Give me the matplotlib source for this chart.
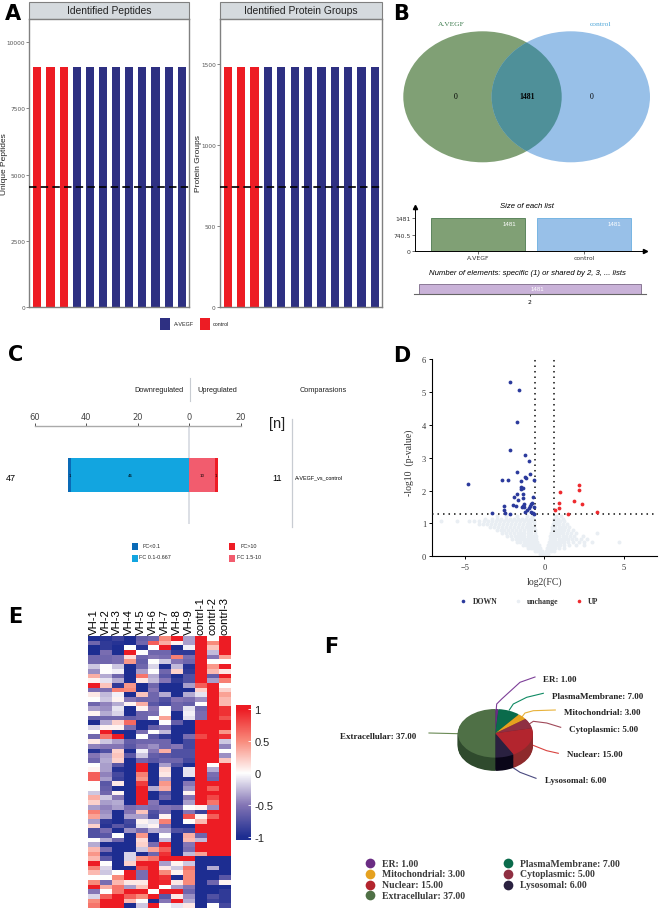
"""Rebuild the six-panel proteomics figure (bars, venn, volcano, heatmap, pie)."""

from __future__ import annotations

import matplotlib

matplotlib.use("Agg")

import matplotlib.pyplot as plt
import numpy as np
from matplotlib.colors import LinearSegmentedColormap
from matplotlib.patches import Ellipse, Rectangle

W, H = 660, 912
SANS = "Liberation Sans"
SERIF = "Liberation Serif"

# Panel A
sample_groups = ["control"] * 3 + ["A-VEGF"] * 9
unique_peptides = [9067] * 12
protein_groups = [1481] * 12
peptide_ticks = [0, 2500, 5000, 7500, 10000]
protein_ticks = [0, 500, 1000, 1500]

# Panel B
venn_counts = [0, 1481, 0]
list_names = ["A.VEGF", "control"]
list_sizes = [1481, 1481]
shared_label = ["2"]
shared_sizes = [1481]

# Panel C
fc_down_strong = [1]
fc_down_mid = [46]
fc_up_mid = [10]
fc_up_strong = [1]
fc_ticks = [-60, -40, -20, 0, 20]

# Panel D
down_fc = [-2.17, -1.60, -1.73, -2.15, -1.23, -0.94, -1.69, -0.88, -1.19, -1.15, -0.63, -2.63, -2.29,
           -1.48, -4.79, -1.48, -1.44, -1.31, -1.71, -1.31, -1.31, -1.90, -0.73, -1.65, -2.56, -2.50,
           -1.94, -1.79, -1.35, -1.27, -1.40, -1.27, -0.85, -0.79, -0.92, -0.98, -0.65, -1.10, -1.19,
           -0.85, -0.73, -3.29, -2.46, -2.15, -0.63]
down_p = [5.31, 5.07, 4.07, 3.24, 3.08, 2.90, 2.57, 2.49, 2.41, 2.37, 2.33, 2.31, 2.31,
          2.28, 2.19, 2.12, 2.06, 2.09, 1.89, 1.89, 1.78, 1.80, 1.80, 1.70, 1.52, 1.42,
          1.56, 1.52, 1.54, 1.58, 1.50, 1.51, 1.59, 1.63, 1.52, 1.47, 1.49, 1.41, 1.36,
          1.35, 1.32, 1.32, 1.32, 1.30, 1.29]
up_fc = [2.19, 2.15, 1.00, 1.88, 0.92, 2.38, 0.90, 0.69, 3.29, 1.46]
up_p = [2.16, 2.03, 1.97, 1.68, 1.62, 1.58, 1.46, 1.42, 1.36, 1.30]
unchange_bands = {
    1.22: [-3.0, -2.4, -1.7, -1.1, -0.8, 0.75, 1.05],
    1.14: [-3.7, -3.3, -3.0, -2.7, -2.4, -2.15, -1.9, -1.65, -1.4, -1.15, -0.9, -0.7, 0.62, 0.85, 1.15],
    1.06: [-6.5, -5.5, -4.7, -4.4, -4.1, -3.8, -3.55, -3.3, -3.05, -2.8, -2.55, -2.3, -2.05, -1.8, -1.55,
           -1.3, -1.05, -0.85, -0.68, 0.58, 0.8, 1.0, 1.25],
    0.97: [-4.1, -3.85, -3.6, -3.35, -3.1, -2.85, -2.6, -2.35, -2.1, -1.85, -1.6, -1.35, -1.1, -0.9, -0.68,
           0.55, 0.75, 0.95, 1.15, 1.4],
    0.88: [-3.4, -3.15, -2.9, -2.65, -2.4, -2.15, -1.9, -1.65, -1.4, -1.15, -0.95, -0.8, -0.63,
           0.5, 0.7, 0.9, 1.1, 1.3, 1.55],
    0.79: [-3.0, -2.75, -2.5, -2.25, -2.0, -1.75, -1.5, -1.25, -1.05, -0.85, -0.6,
           0.46, 0.65, 0.85, 1.05, 1.25, 1.5, 1.8],
    0.70: [-2.65, -2.4, -2.15, -1.9, -1.65, -1.45, -1.25, -1.05, -0.85, -0.58,
           0.42, 0.6, 0.8, 1.0, 1.2, 1.4, 1.65, 2.0, 3.3],
    0.61: [-2.35, -2.1, -1.85, -1.65, -1.45, -1.25, -1.05, -0.85, -0.7, -0.54,
           0.38, 0.55, 0.75, 0.95, 1.15, 1.35, 1.6, 1.85, 2.4],
    0.52: [-2.0, -1.8, -1.6, -1.4, -1.2, -1.0, -0.85, -0.65, -0.5,
           0.33, 0.5, 0.7, 0.9, 1.1, 1.3, 1.5, 1.75, 2.0, 2.3, 2.7],
    0.43: [-1.7, -1.5, -1.3, -1.1, -0.95, -0.8, -0.62, -0.43,
           0.28, 0.45, 0.65, 0.85, 1.05, 1.25, 1.5, 1.8, 2.15, 2.5, 3.0, 4.7],
    0.34: [-1.35, -1.15, -1.0, -0.85, -0.68, -0.5, -0.34,
           0.22, 0.4, 0.6, 0.8, 1.0, 1.25, 1.55, 2.0, 2.5],
    0.25: [-1.0, -0.85, -0.7, -0.55, -0.4, -0.25, 0.18, 0.33, 0.5, 0.7, 0.95, 1.25],
    0.16: [-0.6, -0.48, -0.36, -0.25, -0.14, 0.12, 0.25, 0.4, 0.6],
    0.07: [-0.25, -0.14, -0.05, 0.04, 0.12, 0.22],
    0.01: [-0.03, 0.03],
}
volcano_classes = ["DOWN", "unchange", "UP"]

# Panel E, one list per sample, top row first
vh_1 = [-1, -.6, -1, -1, -.6, -.6, -.2, -.4, .35, .05, 1, -.55, .1, 0, -.6, -.35, .05, -.65, -1, -.15, 0, -.6, .1,
        -.45, -.95, -.5, -.6, 0, .05, .7, .7, 0, 0, -.2, .35, .2, -.35, .55, .4, -.35, .2, -.75, -.75, 0, -.3, .3,
        .45, .3, 1, .55, .3, 0, .5, 1, -.5, -.15, .5, .6]
vh_2 = [-.95, -.9, -.9, -.55, -.6, -.6, 0, 0, -.3, -.1, .25, -.55, -.25, -.2, -.45, -.4, -.3, -.6, -.3, .05, 1, .6,
        -.2, -.5, -.75, -.35, -.3, -.35, -.35, -.45, -.35, -.7, -.65, -.6, -.2, -.35, -.45, -.4, -.35, -.9, -.95,
        -.55, -.7, -.3, -1, -.55, -.95, -.7, 0, -.15, -.2, 0, -.55, .35, 0, .7, 1, 1]
vh_3 = [-.85, -.95, -1, -1, -.55, -.55, -.2, -.05, -.6, -.3, -.9, .55, -.05, .05, -.3, -.1, -.15, -.6, .2, .05, -1,
        1, -.35, -.5, .2, .25, .2, -.7, -.95, -.8, -.85, .1, -1, .05, -.5, -.3, -.35, -1, -1, -1, -.7, -1, 0, -.6,
        -1, -1, -1, -1, -1, -1, 0, .5, .3, .6, .6, 1, 1, 1]
vh_4 = [-1, -1, 0, 1, .15, .45, -1, -1, -1, -1, .45, .5, -1, -.5, .05, -1, -1, -.65, .65, -.55, -1, -1, -.65, -.7,
        -1, -.7, -1, -1, -1, -1, -1, -1, -1, -1, -1, -1, -.55, -.5, -.35, -.8, -.85, -.4, -1, -1, -1, -1, -.15,
        -.15, .2, -1, 1, 1, .1, -.35, 1, .7, .3, -1]
vh_5 = [-.65, -.6, -.95, 0, -.6, -.65, -.6, -.35, .6, .1, -1, -1, .25, -.6, .35, .05, -.6, -.6, -1, -1, -.55, 0,
        -.6, -.5, -.05, -.2, -.6, 1, 1, .55, .45, .85, 1, 1, 1, 1, -.5, .25, -.35, .05, -.1, -.55, .45, .15, .2,
        -.2, -1, .45, 1, .8, -.55, -.55, .1, .25, 1, .5, 0, -.2]
vh_6 = [-.6, .7, 0, -.6, -.5, 0, -.15, 0, -.3, -.25, -.6, -.5, -.6, -.6, -.7, -.5, -.55, 0, -1, -.65, 0, -.7, -.6,
        -.4, -.5, -.65, -.7, -1, -1, -1, -1, -1, -.3, -1, -1, -.5, -.55, -.75, -.8, -.1, .05, -.3, -1, -1, -.55,
        .4, -.6, .6, 1, 1, 1, 1, 1, 1, 0, 1, -1, 1]
vh_7 = [.5, .35, 1, -.6, -.55, -.2, -1, -.6, -.7, -.5, -1, -1, -.3, -.75, -.8, 0, 0, .4, 0, -.55, -.25, -.9, -.6,
        -.6, .35, -.7, -.6, -.35, .15, .1, -.35, .45, .35, -.7, -.6, -1, -.5, -.55, .05, .55, -.5, -.35, 0, -.25,
        1, .7, .9, 1, -.35, .1, .5, .9, .95, 0, 1, -.7, -.5, 0]
vh_8 = [1, .05, -1, -.9, .55, -.5, -.25, .2, -1, -.9, -1, -1, -1, -.5, -.6, -.6, -1, -1, -.65, -1, -1, -1, -1, -.5,
        -.75, -.75, -.6, -.75, -1, -1, -1, -1, -1, -1, -1, -1, -.55, -1, -1, -1, -1, -.75, -1, -1, -1, -1, -1, 1,
        .05, -.2, .05, -1, .1, -.35, 1, .1, 1, -.1]
vh_9 = [-.35, -.35, -.05, -.9, -.55, -.6, -.95, -.9, -.75, -.75, -.35, -1, -.3, -.55, -.65, -.1, -.05, -.1, -1, -1,
        -1, -.55, -.8, -.8, -.75, -.75, -.8, -1, -.1, -.1, -1, -.5, -.4, .05, -.5, -.35, 0, -.5, .75, 0, -1, -.8,
        .35, .3, -.5, -.55, -.25, 1, -.2, .6, .5, .5, .5, -.5, -.6, -.4, -.3, .1]
contrl_1 = [1, 1, 1, 1, 1, 1, 1, 1, 1, 1, .7, .2, -.1, -.4, 0, -.6, -.55, -.55, 1, 1, 1, .8, 1, 1, 1, 1, 1, 1, 1, 1,
            1, 1, 1, 1, 1, 1, .05, -.85, .05, .3, 1, 1, -.6, -.25, 1, 1, .4, -1, -1, -1, -1, -1, -1, -1, -1, -1, -1,
            -1]
contrl_2 = [0, .5, .25, -.25, -.5, 0, .45, .3, -.65, -.35, 1, 1, 1, 1, 1, 1, 1, 1, 1, 1, 1, 1, 1, 1, 1, 1, 1, 0, -.3,
            -.55, -.6, 1, .7, 1, .8, .6, -.4, 1, .7, 1, 1, 1, 1, 1, 1, 1, 1, -1, -1, -.3, -1, -1, -.6, -1, -1, -.75,
            -.85, 0]
contrl_3 = [1, 1, 1, 1, .4, 0, 1, .1, 1, .55, 0, .2, .4, .3, .3, .9, .9, .75, 1, 1, .45, .9, -.2, -.45, 0, -.4, .25,
            1, 1, 1, 1, 1, 1, 1, 1, 1, 1, 1, 1, 1, 1, 1, 1, 1, 1, 1, 1, -1, -1, -1, -1, -.7, .05, -1, -.9, -.9, -.9,
            -.8]
heat_labels = ["VH-1", "VH-2", "VH-3", "VH-4", "VH-5", "VH-6", "VH-7", "VH-8", "VH-9",
               "contrl-1", "contrl-2", "contrl-3"]
colorbar_ticks = [-1, -0.5, 0, 0.5, 1]

# Panel F
pie_names = ["ER", "PlasmaMembrane", "Mitochondrial", "Cytoplasmic", "Nuclear", "Lysosomal", "Extracellular"]
pie_values = [1, 7, 3, 5, 15, 6, 37]


def px_axes(fig: plt.Figure, x0: float, y0: float, x1: float, y1: float) -> plt.Axes:
    return fig.add_axes([x0 / W, 1 - y1 / H, (x1 - x0) / W, (y1 - y0) / H])


def draw_panel_a(fig: plt.Figure, ov: plt.Axes) -> None:
    colors = {"control": "#ed1c24", "A-VEGF": "#2e3082"}
    panels = [
        (29.3, 189.0, unique_peptides, peptide_ticks, 10880, "Identified Peptides", "Unique Peptides", 5, -0.61, 11.55),
        (220.0, 382.0, protein_groups, protein_ticks, 1780, "Identified Protein Groups", "Protein Groups", 198, -0.575, 11.52),
    ]
    for x0, x1, values, ticks, top, title, ylabel, ylab_x, xmin, xmax in panels:
        ax = px_axes(fig, x0, 20, x1, 308)
        ax.bar(range(12), values, width=0.62, color=[colors[g] for g in sample_groups])
        ax.axhline(values[0] / 2, color="black", lw=1.2, ls=(0, (4.5, 2.5)), clip_on=False, zorder=5)
        ax.set_xlim(xmin, xmax)
        ax.set_ylim(0, top)
        ax.set_xticks([])
        ax.set_yticks(ticks)
        ax.tick_params(axis="y", labelsize=4.2, length=2, width=0.5, pad=1, colors="#555555")
        for spine in ax.spines.values():
            spine.set_color("#808080")
            spine.set_linewidth(1.0)
        ov.add_patch(Rectangle((x0, 3), x1 - x0, 17, fc="#d5dade", ec="#808080", lw=0.8))
        ov.text((x0 + x1) / 2, 11.5, title, ha="center", va="center", fontsize=7.4, family=SANS, color="#222222")
        ov.text(ylab_x, 164, ylabel, rotation=90, ha="center", va="center",
                fontsize=6.0, family=SANS, color="#222222")
    for x, name, color, tx in [(159.7, "A-VEGF", "#2e3082", 173.5), (199.5, "control", "#ed1c24", 213)]:
        ov.add_patch(Rectangle((x, 318.5), 10, 12.5, fc=color, ec="none"))
        ov.text(tx, 325, name, ha="left", va="center", fontsize=3.9, family=SANS, color="#222222")


def draw_panel_b(fig: plt.Figure, ov: plt.Axes) -> None:
    green, blue = "#80a075", "#98c0e8"
    left = Ellipse((482.5, 97.8), 158.4, 131, fc=green, ec="none")
    right = Ellipse((570.8, 97.8), 158.4, 131, fc=blue, ec="none")
    ov.add_patch(left)
    ov.add_patch(right)
    overlap = Ellipse((482.5, 97.8), 158.4, 131, fc="#4f9099", ec="none")
    ov.add_patch(overlap)
    overlap.set_clip_path(right)
    ov.text(451, 24, list_names[0], ha="center", va="center", fontsize=5.4, family=SERIF, color="#3e7d4f")
    ov.text(601, 24, list_names[1], ha="center", va="center", fontsize=5.4, family=SERIF, color="#4fa6d8")
    for x, count, weight in zip([456, 527, 592], venn_counts, ["normal", "bold", "normal"]):
        ov.text(x, 97, str(count), ha="center", va="center", fontsize=5.6, family=SERIF, weight=weight, color="black")

    ax = px_axes(fig, 415, 208, 645, 251.7)
    ax.bar(range(2), list_sizes, width=0.885, color=[green, blue], edgecolor=["#4d7a4f", "#6aaee0"], linewidth=0.6)
    ax.set_xlim(-0.595, 1.57)
    ax.set_ylim(0, 1481 * 43.7 / 32.4)
    ax.set_xticks(range(2), list_names)
    ax.set_yticks([0, 740.5, 1481], ["0", "740.5", "1481"])
    ax.tick_params(labelsize=4.4, length=2, width=0.5, pad=1, colors="#333333")
    ax.spines[["top", "right"]].set_visible(False)
    for spine in ax.spines.values():
        spine.set_linewidth(0.7)
    ax.patch.set_alpha(0)
    ov.plot([645], [251.7], marker=">", ms=3, color="black")
    ov.plot([415], [208], marker="^", ms=3, color="black")
    for x, size in zip([509, 614], list_sizes):
        ax.text(x, 224.7, str(size), ha="center", va="center", fontsize=4.4, family=SANS, color="white",
                transform=ov.transData, zorder=8)
    ov.text(527.3, 206.3, "Size of each list", ha="center", va="center", fontsize=5.6, family=SANS, style="italic")
    ov.text(527, 273.7, "Number of elements: specific (1) or shared by 2, 3, ... lists", ha="center", va="center",
            fontsize=5.55, family=SANS, style="italic")

    ax2 = px_axes(fig, 414, 283, 646, 294.7)
    ax2.bar([0], shared_sizes, width=0.954, color="#c9b2d8", edgecolor="#7d6a88", linewidth=0.6)
    ax2.set_xlim(-0.5, 0.5)
    ax2.set_ylim(0, 1481 * 11.7 / 9.7)
    ax2.set_xticks([0], shared_label)
    ax2.set_yticks([])
    ax2.tick_params(labelsize=4.4, length=1.5, width=0.5, pad=2)
    ax2.spines[["top", "left", "right"]].set_visible(False)
    ax2.spines["bottom"].set_color("#666666")
    ax2.patch.set_alpha(0)
    ax2.text(0.03, 1481 * 0.5, str(shared_sizes[0]), ha="center", va="center", fontsize=4.4, family=SANS, color="white",
             zorder=8)


def draw_panel_c(fig: plt.Figure, ov: plt.Axes) -> None:
    ax = px_axes(fig, 34.7, 426.7, 240.7, 525)
    strong_b, mid_b, mid_r, strong_r = "#0a6ab6", "#12a5e0", "#f25c6e", "#ee1c25"
    ax.axvline(0, color="#d5d9e0", lw=1.2, zorder=1)
    ax.barh([0], [-v for v in fc_down_mid], height=1, color=mid_b, zorder=2)
    ax.barh([0], [-v for v in fc_down_strong], left=[-v for v in fc_down_mid], height=1, color=strong_b, zorder=2)
    ax.barh([0], fc_up_mid, height=1, color=mid_r, zorder=2)
    ax.barh([0], fc_up_strong, left=fc_up_mid, height=1, color=strong_r, zorder=2)
    ax.text(-fc_down_mid[0] - fc_down_strong[0] / 2, 0, str(fc_down_strong[0]), ha="center", va="center", fontsize=2.8)
    ax.text(-fc_down_mid[0] / 2, 0, str(fc_down_mid[0]), ha="center", va="center", fontsize=2.8)
    ax.text(fc_up_mid[0] / 2, 0, str(fc_up_mid[0]), ha="center", va="center", fontsize=2.8)
    ax.text(fc_up_mid[0] + fc_up_strong[0] / 2, 0, str(fc_up_strong[0]), ha="center", va="center", fontsize=2.8)
    ax.set_xlim(-60, 20)
    ax.set_ylim(-1.467, 1.476)
    ax.patch.set_alpha(0)
    ax.xaxis.tick_top()
    ax.set_xticks(fc_ticks, [str(abs(t)) for t in fc_ticks])
    ax.set_yticks([])
    ax.tick_params(axis="x", labelsize=6, length=2, width=0.6, pad=1.2, color="#333333", labelcolor="#444444")
    ax.spines[["left", "right", "bottom"]].set_visible(False)
    ax.spines["top"].set_color("#aaaaaa")
    ax.spines["top"].set_linewidth(1.0)

    ov.plot([190.3, 190.3], [379, 402], color="#c8ccd2", lw=0.8)
    ov.plot([292.3, 292.3], [420, 527.7], color="#c8ccd2", lw=0.9)
    for x, label in [(159, "Downregulated"), (217.3, "Upregulated"), (323.7, "Comparasions")]:
        ov.text(x, 390.7, label, ha="center", va="center", fontsize=5.3, family=SANS, color="#222222")
    ov.text(276.7, 424, "[n]", ha="center", va="center", fontsize=10.5, family=SANS, color="#222222")
    ov.text(11, 478.3, str(fc_down_mid[0] + fc_down_strong[0]), ha="center", va="center", fontsize=6.6, family=SANS)
    ov.text(276.7, 478.3, str(fc_up_mid[0] + fc_up_strong[0]), ha="center", va="center", fontsize=6.6, family=SANS)
    ov.text(295, 478.3, "A-VEGF_vs_control", ha="left", va="center", fontsize=3.9, family=SANS)
    legend = [(132, 544, strong_b, 142.3, 546.7, "FC<0.1"), (132, 556, mid_b, 139, 557.7, "FC 0.1-0.667"),
              (229.3, 544, strong_r, 240.7, 546.7, "FC>10"), (229.3, 556, mid_r, 236.7, 557.7, "FC 1.5-10")]
    for x, y, color, tx, ty, label in legend:
        ov.add_patch(Rectangle((x, y), 5.6, 7, fc=color, ec="none"))
        ov.text(tx, ty, label, ha="left", va="center", fontsize=3.9, family=SANS, color="#222222")


def draw_panel_d(fig: plt.Figure, ov: plt.Axes) -> None:
    ax = px_axes(fig, 432.3, 360, 656.7, 557.3)
    grey_x = [x for band in unchange_bands.values() for x in band]
    grey_y = [y for y, band in unchange_bands.items() for _ in band]
    ax.scatter(grey_x, grey_y, s=8, color="#e9eef3", linewidths=0, zorder=1)
    dots = (0, (1, 2.6))
    ax.plot([-7.03, 7.05], [1.3, 1.3], color="#111111", lw=1.1, ls=dots, zorder=3)
    ax.plot([-0.585, -0.585], [0.75, 6], color="#111111", lw=1.1, ls=dots, zorder=3)
    ax.plot([0.62, 0.62], [0.75, 6], color="#111111", lw=1.1, ls=dots, zorder=3)
    ax.scatter(down_fc, down_p, s=7.5, color="#2b3a9c", linewidths=0, zorder=4)
    ax.scatter(up_fc, up_p, s=7.5, color="#ee2a2e", linewidths=0, zorder=4)
    ax.set_xlim(-7.03, 7.05)
    ax.set_ylim(0, 6)
    ax.set_xticks([-5, 0, 5])
    ax.set_yticks(range(7))
    ax.spines[["top", "right"]].set_visible(False)
    ax.tick_params(labelsize=6, length=2.5, width=0.7, pad=2, labelfontfamily=SERIF, labelcolor="#333333")
    ov.text(544.7, 581.7, "log2(FC)", ha="center", va="center", fontsize=7, family=SERIF, color="#333333")
    ov.text(409.5, 463, "-log10\u00a0\u00a0(p-value)", rotation=90, ha="center", va="center", fontsize=7,
            family=SERIF, color="#333333")
    entries = [(463.3, 472.7, "#2b3a9c"), (518, 526.7, "#e9eef3"), (579.3, 588.3, "#ee2a2e")]
    for (mx, tx, color), label in zip(entries, volcano_classes):
        ov.plot([mx], [602.3], marker="o", ms=2.6, mew=0, color=color)
        ov.text(tx, 602.3, label, ha="left", va="center", fontsize=5.6, family=SERIF, weight="bold", color="#333333")


def draw_panel_e(fig: plt.Figure, ov: plt.Axes) -> None:
    cmap = LinearSegmentedColormap.from_list(
        "heat", [(0, "#1d2d91"), (0.25, "#8475b5"), (0.5, "#ffffff"), (0.75, "#f98c7d"), (1, "#ed1c24")]
    )
    columns = [vh_1, vh_2, vh_3, vh_4, vh_5, vh_6, vh_7, vh_8, vh_9, contrl_1, contrl_2, contrl_3]
    matrix = np.column_stack(columns)
    ax = px_axes(fig, 87.7, 637.3, 230.3, 909.3)
    ax.imshow(matrix, cmap=cmap, vmin=-1, vmax=1, aspect="auto", interpolation="nearest")
    ax.xaxis.tick_top()
    ax.set_xticks(range(12), heat_labels, rotation=90, fontsize=8.2, family=SANS)
    ax.set_yticks([])
    ax.tick_params(length=0, pad=1.5)
    for spine in ax.spines.values():
        spine.set_visible(False)

    bar = px_axes(fig, 236, 706, 250.7, 840.7)
    gradient = np.linspace(1.06, -1.04, 200).reshape(-1, 1)
    bar.imshow(gradient, cmap=cmap, vmin=-1, vmax=1, aspect="auto", extent=[0, 1, -1.04, 1.06])
    bar.set_xticks([])
    bar.yaxis.tick_right()
    bar.set_yticks(colorbar_ticks, ["-1", "-0.5", "0", "0.5", "1"])
    bar.tick_params(axis="y", direction="in", length=2, width=0.6, color="white", labelsize=8, pad=2.5,
                    labelfontfamily=SANS, labelcolor="#222222")
    for spine in bar.spines.values():
        spine.set_visible(False)


def draw_panel_f(fig: plt.Figure, ov: plt.Axes) -> None:
    top_colors = ["#6a2c83", "#0a6b4b", "#e5a11f", "#8f2f42", "#b3252e", "#2a2140", "#4f7046"]
    side_colors = ["#4a1f5c", "#07492f", "#a87715", "#642030", "#8e2a2c", "#0a0618", "#2f4a2d"]
    cx, cy, rx, ry, depth = 495.3, 734.3, 37.5, 24.3, 13.3
    ax = px_axes(fig, cx - rx, cy - ry, cx + rx, cy + ry + depth)
    for drop in np.linspace(depth / ry, 0.04, 16):
        ax.pie(pie_values, colors=side_colors, startangle=90, counterclock=False, center=(0, -drop),
               wedgeprops={"linewidth": 0})
    ax.pie(pie_values, colors=top_colors, startangle=90, counterclock=False, wedgeprops={"linewidth": 0})
    ax.set_aspect("auto")
    ax.set_xlim(-1, 1)
    ax.set_ylim(-1 - depth / ry, 1)
    ax.axis("off")

    leaders = {
        "ER": ([535, 520, 501.7, 496.7, 495.7], [678, 683.3, 700, 705, 716.7], "#7d3f98"),
        "PlasmaMembrane": ([543.3, 526.7, 513.3, 509.3], [694.3, 698.3, 705, 711], "#0f8a63"),
        "Mitochondrial": ([555.3, 533.3, 525, 521.7], [711, 711.7, 714, 718.3], "#e8b23a"),
        "Cytoplasmic": ([560.7, 546.7, 533.3, 529.3], [728.3, 724, 722.3, 725], "#a04a5a"),
        "Nuclear": ([558.3, 546.7, 532.3], [754.3, 751.7, 746], "#d8433f"),
        "Lysosomal": ([536, 520, 510, 504.3], [779.3, 773.3, 766.7, 758.3], "#4a4a80"),
        "Extracellular": ([429, 458.3], [734, 734.7], "#6a8a55"),
    }
    for name, (xs, ys, color) in leaders.items():
        ov.plot(xs, ys, color=color, lw=0.8, zorder=6)

    label_pos = {
        "ER": (543.3, 680), "PlasmaMembrane": (551.7, 696.7), "Mitochondrial": (564, 713),
        "Cytoplasmic": (569.3, 730), "Nuclear": (566.7, 755), "Lysosomal": (545, 781), "Extracellular": (340, 736.7),
    }
    for name, value in zip(pie_names, pie_values):
        x, y = label_pos[name]
        ov.text(x, y, f"{name}: {value:.2f}", ha="left", va="center", fontsize=6.5, family=SERIF, weight="bold",
                color="#222222")

    legend_pos = [(370, 864.3), (508, 864.3), (370, 875), (508, 875), (370, 885.7), (508, 885.7), (370, 896.3)]
    for (x, y), name, value, color in zip(legend_pos, pie_names, pie_values, top_colors):
        ov.plot([x], [y], marker="o", ms=7, mew=0, color=color)
        ov.text(x + 11.5, y, f"{name}: {value:.2f}", ha="left", va="center", fontsize=7, family=SERIF,
                weight="bold", color="#3a3a3a")


def main() -> None:
    fig = plt.figure(figsize=(W / 100, H / 100), dpi=100)
    ov = fig.add_axes([0, 0, 1, 1], zorder=0)
    ov.set_xlim(0, W)
    ov.set_ylim(H, 0)
    ov.axis("off")

    draw_panel_b(fig, ov)
    draw_panel_a(fig, ov)
    draw_panel_c(fig, ov)
    draw_panel_d(fig, ov)
    draw_panel_e(fig, ov)
    draw_panel_f(fig, ov)

    for letter, x, y in [("A", 12.5, 13.5), ("B", 401.5, 13.5), ("C", 16, 355), ("D", 401.5, 356), ("E", 15.5, 617),
                         ("F", 331, 647)]:
        ov.text(x, y, letter, ha="center", va="center", fontsize=15, family="DejaVu Sans", weight="bold")

    fig.savefig("out.png", dpi=100)
    plt.close(fig)


if __name__ == "__main__":
    main()
